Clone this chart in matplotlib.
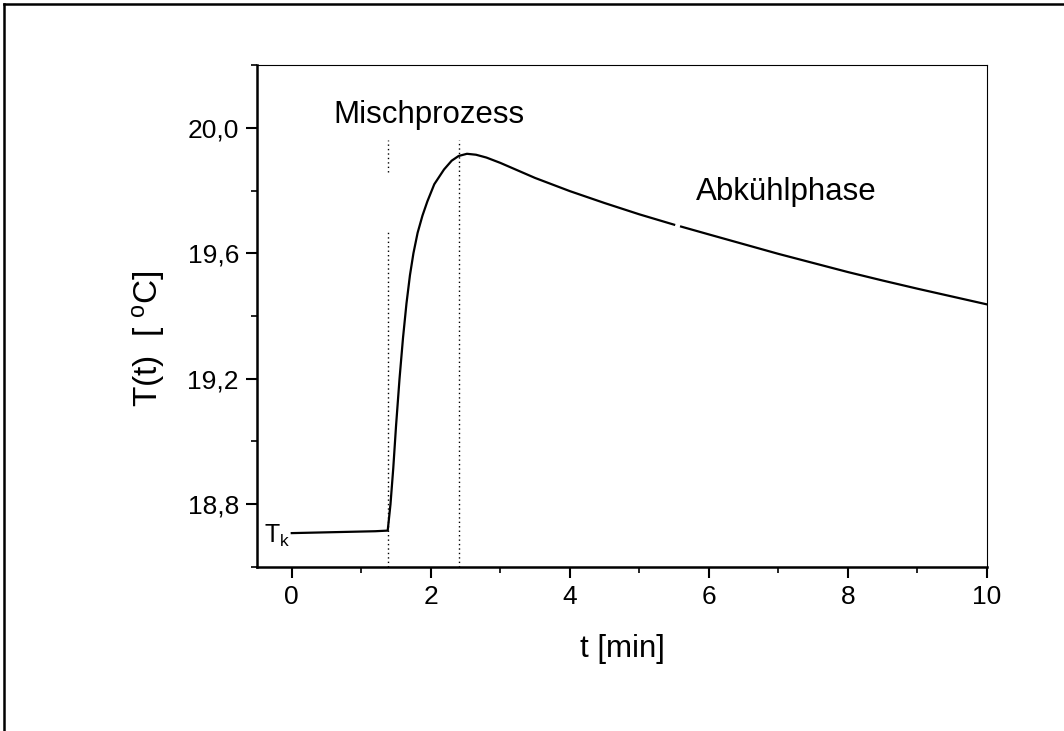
import numpy as np
import matplotlib
matplotlib.use("Agg")
import matplotlib.pyplot as plt
from matplotlib.ticker import MultipleLocator, FuncFormatter
from matplotlib.lines import Line2D

plt.rcParams['font.family'] = ['Liberation Sans', 'DejaVu Sans']

# data
t_min = [0.0, 0.2, 0.4, 0.6, 0.8, 1.0, 1.2, 1.38, 1.42, 1.46, 1.50, 1.55, 1.60, 1.65, 1.70,
         1.75, 1.81, 1.88, 1.95, 2.05, 2.19, 2.30, 2.40, 2.52, 2.65, 2.80, 3.0, 3.5,
         4.0, 4.5, 5.0, 5.5, 5.55, 5.6, 6.0, 6.5, 7.0, 7.5, 8.0, 8.5, 9.0, 9.5, 10.0]
temp_c = [18.708, 18.709, 18.710, 18.711, 18.712, 18.713, 18.714, 18.716, 18.80, 18.915,
          19.05, 19.20, 19.33, 19.44, 19.53, 19.60, 19.665, 19.72, 19.765, 19.82, 19.867,
          19.895, 19.910, 19.917, 19.914, 19.905, 19.888, 19.840, 19.798, 19.760, 19.724,
          19.691, np.nan, 19.685, 19.660, 19.629, 19.598, 19.569, 19.540, 19.513, 19.487,
          19.462, 19.437]
marker_lines = [1.39, 2.40]
x_ticks = [0, 2, 4, 6, 8, 10]
y_ticks = [18.8, 19.2, 19.6, 20.0]

fig = plt.figure(figsize=(10.64, 7.31), dpi=100)
ax = fig.add_axes([257/1064, 1-567/731, (987-257)/1064, (567-65)/731])

ax.plot(t_min, temp_c, color='black', lw=1.6)

dot = (0, (1, 2.2))
ax.plot([marker_lines[0]]*2, [18.6, 19.667], color='black', lw=1.0, ls=dot)
ax.plot([marker_lines[0]]*2, [19.86, 19.962], color='black', lw=1.0, ls=dot)
ax.plot([marker_lines[1]]*2, [18.6, 19.962], color='black', lw=1.0, ls=dot)

ax.set_xlim(-0.5, 10)
ax.set_ylim(18.6, 20.2)
ax.set_xticks(x_ticks)
ax.set_yticks(y_ticks)
ax.xaxis.set_minor_locator(MultipleLocator(1))
ax.yaxis.set_minor_locator(MultipleLocator(0.2))
ax.yaxis.set_major_formatter(FuncFormatter(lambda v, p: f"{v:.1f}".replace('.', ',')))
ax.xaxis.set_major_formatter(FuncFormatter(lambda v, p: f"{int(round(v))}"))

ax.tick_params(which='major', direction='out', length=8, width=1.5, labelsize=19)
ax.tick_params(axis='x', which='major', pad=5)
ax.tick_params(axis='y', which='major', pad=5)
ax.tick_params(which='minor', direction='out', length=4, width=1.2)
ax.tick_params(top=False, right=False)

ax.spines['left'].set_linewidth(1.8)
ax.spines['bottom'].set_linewidth(1.8)
ax.spines['top'].set_linewidth(0.8)
ax.spines['right'].set_linewidth(0.8)

ax.set_xlabel('t [min]', fontsize=22.5, labelpad=18)
ax.set_ylabel('T(t)  [ $\\mathregular{^o}$C]', fontsize=24)
ax.yaxis.set_label_coords(-0.123, 0.454)

ax.text(1.98, 20.04, 'Mischprozess', fontsize=22.5, ha='center', va='center')
ax.text(7.11, 19.795, 'Abkühlphase', fontsize=22.5, ha='center', va='center')
ax.text(-0.40, 18.70, 'T$\\mathregular{_k}$', fontsize=18, ha='left', va='center')

# outer frame (left and top edges)
fig.add_artist(Line2D([4/1064, 4/1064], [0, 1-4/731], transform=fig.transFigure, color='black', lw=1.8))
fig.add_artist(Line2D([4/1064, 1], [1-4/731, 1-4/731], transform=fig.transFigure, color='black', lw=1.8))

fig.savefig('out.png', dpi=100)
